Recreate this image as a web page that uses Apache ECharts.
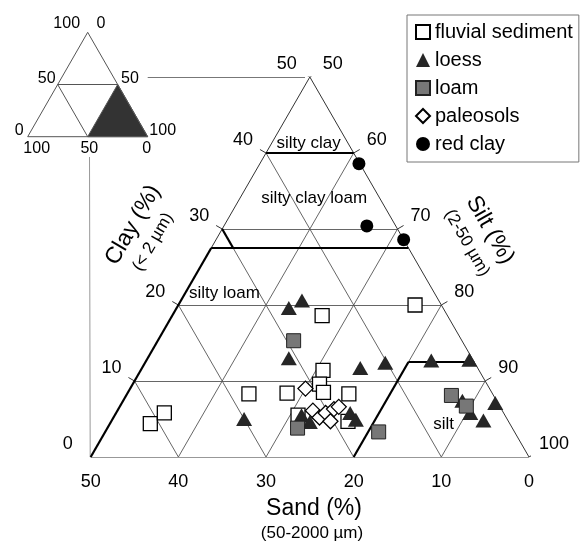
<!DOCTYPE html>
<html><head><meta charset="utf-8">
<script src="https://cdn.jsdelivr.net/npm/echarts@6.0.0/dist/echarts.min.js"></script>
<style>html,body{margin:0;padding:0;background:#fff}#c{width:581px;height:541px}</style>
</head><body><div id="c"></div>
<script>
// ---- data: each point is [sand %, clay %]; silt = 100 - sand - clay ----
const fluvialSediment = [[41.0,4.4],[38.7,5.8],[27.8,8.3],[23.4,8.4],[14.3,18.6],[3.0,20.0],[17.8,11.4],[19.1,9.6],[19.2,8.5],[16.4,8.3],[23.6,5.5],[18.3,4.7]];
const loess = [[17.6,19.6],[15.6,20.6],[20.9,13.0],[30.0,5.0],[13.4,11.7],[10.2,12.4],[4.8,12.7],[0.4,12.8],[3.9,7.4],[3.8,5.8],[2.8,4.8],[0.3,7.1],[23.2,5.5],[22.7,4.6],[17.5,5.8],[17.3,4.9]];
const loam = [[19.2,15.3],[24.5,3.8],[15.5,3.3],[4.8,8.1],[3.8,6.7]];
const paleosols = [[21.0,9.0],[21.6,6.1],[21.3,5.2],[20.3,5.8],[20.3,4.7],[19.1,6.3],[18.4,6.6]];
const redClay = [[0.1,38.6],[3.3,30.4],[0.0,28.6]];

const clayTicks = [0,10,20,30,40,50];
const siltTicks = [50,60,70,80,90,100];
const sandTicks = [50,40,30,20,10,0];
const gridValues = [10,20,30,40];
// texture-class boundaries as [sand, clay] segment ends
const classBoundaries = [
  [[50,0],[22.5,27.5]],
  [[22.5,27.5],[0,27.5]],
  [[20,27.5],[20,30]],
  [[10,40],[0,40]],
  [[20,0],[7.5,12.5]],
  [[7.5,12.5],[0,12.5]]
];
const classNames = ['silty clay','silty clay loam','silty loam','silt'];
const classLabelAt = [[4.5,41.3],[7.5,34.0],[24.0,21.5],[7.6,4.3]];

// ---- layout ----
const GL = 90.7, GT = 77, GW = 438.3, GH = 380;
const KX = GW / 50, KY = GH / 50;
const FONT = '"Liberation Sans", Arial, Helvetica, sans-serif';
const INK = '#000';
const xy = (s, c) => [50 - s - c / 2, c];

const thin = [];
gridValues.forEach(v => {
  thin.push({coords: [xy(50 - v, v), xy(0, v)]});        // clay
  thin.push({coords: [xy(v, 0), xy(v, 50 - v)]});         // sand
  thin.push({coords: [xy(v, 0), xy(0, v)]});              // silt (100-v)
});
const edges = [
  {coords: [xy(50,0), xy(0,0)]},
  {coords: [xy(0,0), xy(0,50)]},
  {coords: [xy(22.5,27.5), xy(0,50)]}
];
const T = 7;
const ticks = [];
clayTicks.forEach(c => {
  const p = xy(50 - c, c);
  ticks.push({coords: [p, [p[0] - 0.866 * T / KX, p[1] + 0.5 * T / KY]]});
});
siltTicks.forEach(si => {
  const p = xy(0, 100 - si);
  ticks.push({coords: [p, [p[0] + 0.866 * T / KX, p[1] + 0.5 * T / KY]]});
});
const thick = classBoundaries.map(seg => ({coords: [xy(...seg[0]), xy(...seg[1])]}));

const tickLabelStyle = {fontSize: 18, color: INK, opacity: 1, fontFamily: FONT, align: 'center', verticalAlign: 'middle'};
const tickLabels = [];
clayTicks.forEach(c => tickLabels.push({value: xy(50 - c, c), label: Object.assign({show: true, formatter: String(c), offset: [-23, -13]}, tickLabelStyle)}));
siltTicks.forEach(si => tickLabels.push({value: xy(0, 100 - si), label: Object.assign({show: true, formatter: String(si), offset: [si === 100 ? 25 : 23, -13]}, tickLabelStyle)}));
sandTicks.forEach(s => tickLabels.push({value: xy(s, 0), label: Object.assign({show: true, formatter: String(s), offset: [0, 25]}, tickLabelStyle)}));

const regionLabels = classNames.map((n, i) => ({value: xy(...classLabelAt[i]), label: {show: true, formatter: n, fontSize: 17, color: INK, opacity: 1, fontFamily: FONT, align: 'center', verticalAlign: 'middle'}}));

const linesSeries = (data, color, width, z) => ({
  type: 'lines', coordinateSystem: 'cartesian2d', data: data, silent: true, z: z,
  symbol: ['none', 'none'], lineStyle: {color: color, width: width, opacity: 1, curveness: 0}
});
const pts = arr => arr.map(p => xy(p[0], p[1]));

const chart = echarts.init(document.getElementById('c'), null, {renderer: 'canvas'});
chart.setOption({
  animation: false,
  backgroundColor: '#fff',
  grid: {left: GL, top: GT, width: GW, height: GH},
  xAxis: {type: 'value', min: 0, max: 50, show: false},
  yAxis: {type: 'value', min: 0, max: 50, show: false},
  legend: {
    orient: 'vertical', left: 407, top: 15, padding: [7, 6, 8, 8],
    itemGap: 8, itemWidth: 14, itemHeight: 14,
    borderColor: '#777', borderWidth: 1,
    textStyle: {fontSize: 20, color: INK, fontFamily: FONT, lineHeight: 20},
    data: ['fluvial sediment', 'loess', 'loam', 'paleosols', 'red clay']
  },
  series: [
    linesSeries(thin, '#555', 0.9, 1),
    linesSeries(edges, '#333', 1, 1),
    linesSeries(ticks, '#333', 1, 1),
    linesSeries(thick, '#000', 2.2, 2),
    {type: 'scatter', data: tickLabels, symbolSize: 1, itemStyle: {color: 'transparent', opacity: 1}, silent: true, z: 3},
    {type: 'scatter', data: regionLabels, symbolSize: 1, itemStyle: {color: 'transparent', opacity: 1}, silent: true, z: 3},
    {name: 'fluvial sediment', type: 'scatter', data: pts(fluvialSediment), symbol: 'rect', symbolSize: 14,
      itemStyle: {color: '#fff', borderColor: '#000', borderWidth: 1.3, opacity: 1}, z: 5},
    {name: 'loess', type: 'scatter', data: pts(loess), symbol: 'triangle', symbolSize: [16, 14],
      itemStyle: {color: '#262626', opacity: 1}, z: 5},
    {name: 'loam', type: 'scatter', data: pts(loam), symbol: 'rect', symbolSize: 14,
      itemStyle: {color: '#777', borderColor: '#222', borderWidth: 1, opacity: 1}, z: 5},
    {name: 'paleosols', type: 'scatter', data: pts(paleosols), symbol: 'diamond', symbolSize: [15, 15],
      itemStyle: {color: '#fff', borderColor: '#000', borderWidth: 1.3, opacity: 1}, z: 5},
    {name: 'red clay', type: 'scatter', data: pts(redClay), symbol: 'circle', symbolSize: 13,
      itemStyle: {color: '#000', opacity: 1}, z: 5}
  ],
  graphic: [
    // connectors
    {type: 'line', shape: {x1: 147.7, y1: 77.5, x2: 305, y2: 77.5}, style: {stroke: '#777', lineWidth: 1}, z: 1},
    {type: 'line', shape: {x1: 89.5, y1: 157, x2: 90.2, y2: 457}, style: {stroke: '#999', lineWidth: 1}, z: 1},
    // inset triangle
    {type: 'polygon', shape: {points: [[117.7,84.5],[87.7,136.7],[147.7,136.7]]}, style: {fill: '#333', stroke: '#555', lineWidth: 1}},
    {type: 'polygon', shape: {points: [[87.7,32.3],[27.7,136.7],[147.7,136.7]]}, style: {fill: 'none', stroke: '#555', lineWidth: 1}},
    {type: 'line', shape: {x1: 57.7, y1: 84.5, x2: 117.7, y2: 84.5}, style: {stroke: '#555', lineWidth: 1}},
    {type: 'line', shape: {x1: 57.7, y1: 84.5, x2: 87.7, y2: 136.7}, style: {stroke: '#555', lineWidth: 1}},
    ...[['100',66.7,24],['0',101,24],['50',46.7,79],['50',130,79],['0',19.3,130.7],['100',162.7,130.7],['100',36.7,148.3],['50',89.3,148.3],['0',146.7,148.3]].map(t => ({
      type: 'text', x: t[1], y: t[2], style: {text: t[0], fontSize: 16, fill: INK, fontFamily: FONT, align: 'center', verticalAlign: 'middle'}
    })),
    // axis titles
    {type: 'text', x: 314, y: 509, style: {text: 'Sand (%)', fontSize: 23, fill: INK, fontFamily: FONT, align: 'center', verticalAlign: 'middle'}},
    {type: 'text', x: 312, y: 533, style: {text: '(50-2000 µm)', fontSize: 17, fill: INK, fontFamily: FONT, align: 'center', verticalAlign: 'middle'}},
    {type: 'text', x: 133, y: 225, rotation: Math.PI / 3, style: {text: 'Clay (%)', fontSize: 23, fill: INK, fontFamily: FONT, align: 'center', verticalAlign: 'middle'}},
    {type: 'text', x: 153, y: 242, rotation: Math.PI / 3, style: {text: '(< 2 µm)', fontSize: 17, fill: INK, fontFamily: FONT, align: 'center', verticalAlign: 'middle'}},
    {type: 'text', x: 490, y: 230, rotation: -Math.PI / 3, style: {text: 'Silt (%)', fontSize: 23, fill: INK, fontFamily: FONT, align: 'center', verticalAlign: 'middle'}},
    {type: 'text', x: 467, y: 243, rotation: -Math.PI / 3, style: {text: '(2-50 µm)', fontSize: 17, fill: INK, fontFamily: FONT, align: 'center', verticalAlign: 'middle'}}
  ]
});
</script></body></html>
